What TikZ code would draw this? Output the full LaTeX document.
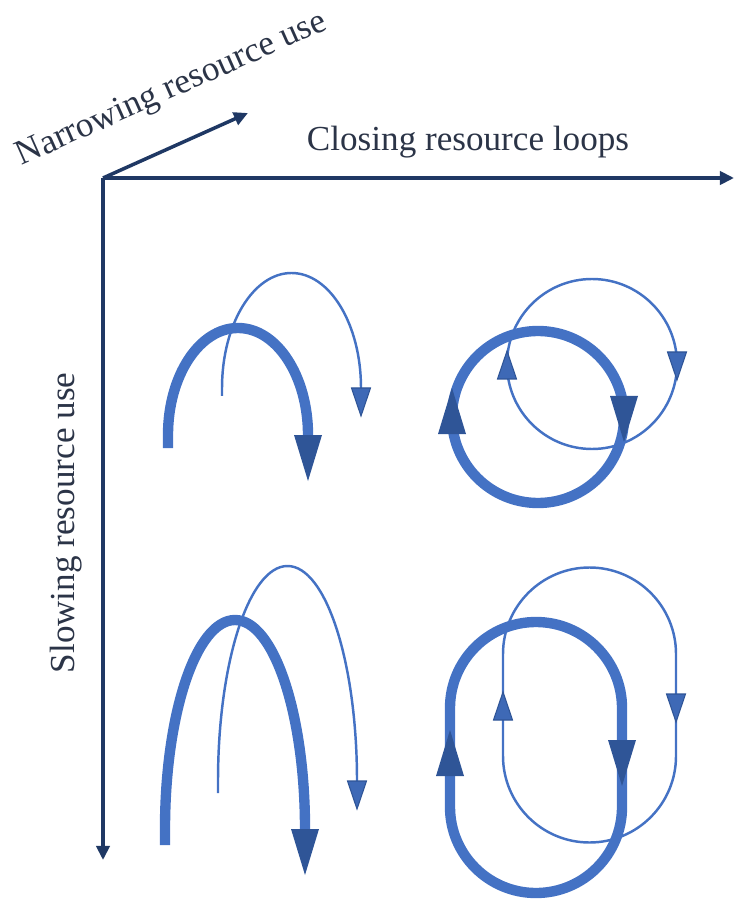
\documentclass[tikz,border=0pt]{standalone}
\usepackage{fontspec}
\setmainfont{Liberation Serif}
\usetikzlibrary{arrows.meta}
\definecolor{loopblue}{HTML}{4472C4}
\definecolor{headblue}{HTML}{2F5597}
\definecolor{axisnavy}{HTML}{1F3864}
\definecolor{textnavy}{HTML}{2B3447}
\begin{document}
\begin{tikzpicture}[x=0.02cm,y=-0.02cm,
  axis/.style={draw=axisnavy,line width=2pt,-{Triangle[length=8pt,width=7.5pt]}},
  axislabel/.style={text=textnavy,font=\fontsize{20}{24}\selectfont,inner sep=0pt},
  bigline/.style={draw=loopblue,line width=5.9pt},
  smallline/.style={draw=loopblue,line width=1.4pt},
  bighead/.pic={\fill[headblue] (-14,0) -- (14,0) -- (0,46) -- cycle;},
  smallhead/.pic={\filldraw[fill=loopblue!70!headblue,draw=headblue,line width=0.6pt] (-9.5,0) -- (9.5,0) -- (0,28) -- cycle;}]
\useasboundingbox (0,0) rectangle (734,901);
% Axes
\coordinate (origin) at (103,178);
\coordinate (closeend) at (734,178);
\coordinate (slowend) at (103,860);
\coordinate (narrowend) at (248,113);
\draw[axis] (origin) -- (closeend);
\draw[axis] (origin) -- (slowend);
\draw[axis] (origin) -- (narrowend);
\node[axislabel] (closing) at (468,142) {Closing resource loops};
\node[axislabel,rotate=24] (narrowing) at (172,90) {Narrowing resource use};
\node[axislabel,rotate=90] (slowing) at (66,523) {Slowing resource use};
% Linear, fast
\draw[bigline] (168,448) -- (168,435) arc[start angle=180,end angle=360,x radius=70,y radius=107];
\pic at (308,435) {bighead};
\draw[smallline] (222,396) -- (222,388) arc[start angle=180,end angle=360,x radius=69.5,y radius=115];
\pic at (361,388) {smallhead};
% Linear, slow
\draw[bigline] (165,845) -- (165,829) arc[start angle=180,end angle=360,x radius=70,y radius=209];
\pic at (305,829) {bighead};
\draw[smallline] (218,793) -- (218,781) arc[start angle=180,end angle=360,x radius=69.5,y radius=215];
\pic at (357,781) {smallhead};
% Circular, fast
\draw[bigline] (538,417) circle[radius=86];
\pic[rotate=180] at (452,434) {bighead};
\pic at (624,396) {bighead};
\draw[smallline] (592,364) circle[radius=85];
\pic[rotate=180] at (507,379) {smallhead};
\pic at (677,352) {smallhead};
% Circular, slow
\draw[bigline] (450,807) -- (450,708) arc[start angle=180,end angle=360,radius=86]
  -- (622,807) arc[start angle=0,end angle=180,radius=86] -- cycle;
\pic[rotate=180] at (450,776) {bighead};
\pic at (622,740) {bighead};
\draw[smallline] (503,756) -- (503,654) arc[start angle=180,end angle=360,radius=86.5]
  -- (676,756) arc[start angle=0,end angle=180,radius=86.5] -- cycle;
\pic[rotate=180] at (503,720) {smallhead};
\pic at (676,694) {smallhead};
\end{tikzpicture}
\end{document}
